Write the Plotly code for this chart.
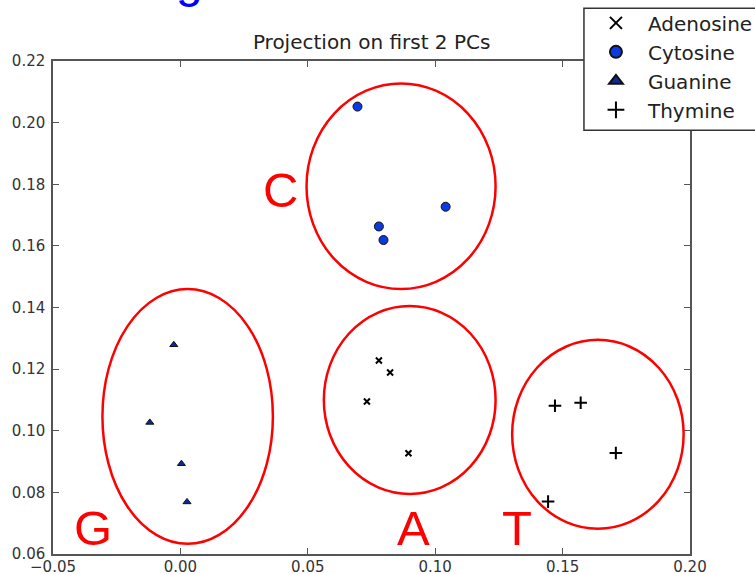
import plotly.graph_objects as go

# ---- data ----
adenosine_x = [0.0779, 0.0823, 0.0732, 0.0895]
adenosine_y = [0.1228, 0.1189, 0.1095, 0.0927]
cytosine_x = [0.0695, 0.1041, 0.0779, 0.0797]
cytosine_y = [0.2052, 0.1727, 0.1663, 0.1619]
guanine_x = [-0.0026, -0.0120, 0.0004, 0.0026]
guanine_y = [0.1279, 0.1027, 0.0893, 0.0769]
thymine_x = [0.1470, 0.1571, 0.1709, 0.1443]
thymine_y = [0.1081, 0.1091, 0.0928, 0.0770]

cluster_labels = ["C", "A", "T", "G"]
cluster_x0 = [0.0495, 0.0563, 0.1302, -0.0306]
cluster_x1 = [0.1237, 0.1237, 0.1975, 0.0363]
cluster_y0 = [0.1460, 0.0795, 0.0682, 0.0633]
cluster_y1 = [0.2127, 0.1405, 0.1295, 0.1460]

x_ticks = [-0.05, 0.00, 0.05, 0.10, 0.15, 0.20]
y_ticks = [0.06, 0.08, 0.10, 0.12, 0.14, 0.16, 0.18, 0.20, 0.22]

# plot-area geometry (pixels) used to place paper-referenced decorations
PL, PR, PT, PB = 53.3, 690.0, 60.7, 554.3
def px(xp):
    return (xp - PL) / (PR - PL)
def py(yp):
    return (PB - yp) / (PB - PT)

fig = go.Figure()
fig.add_trace(go.Scatter(x=adenosine_x, y=adenosine_y, mode="markers", name="Adenosine",
                         marker=dict(symbol="x-thin", size=6, color="black",
                                     line=dict(width=2, color="black"))))
fig.add_trace(go.Scatter(x=cytosine_x, y=cytosine_y, mode="markers", name="Cytosine",
                         marker=dict(symbol="circle", size=9, color="#0a3ae0",
                                     line=dict(width=1, color="#111"))))
fig.add_trace(go.Scatter(x=guanine_x, y=guanine_y, mode="markers", name="Guanine",
                         marker=dict(symbol="triangle-up", size=7, color="#0a2a9a",
                                     line=dict(width=1, color="#111"))))
fig.add_trace(go.Scatter(x=thymine_x, y=thymine_y, mode="markers", name="Thymine",
                         marker=dict(symbol="cross-thin", size=9, color="black",
                                     line=dict(width=2, color="black"))))

for x0, x1, y0, y1 in zip(cluster_x0, cluster_x1, cluster_y0, cluster_y1):
    fig.add_shape(type="circle", xref="x", yref="y", x0=x0, x1=x1, y0=y0, y1=y1,
                  line=dict(color="#ff0000", width=2.5), layer="above")

letter_pos = {"C": (0.0394, 0.1781), "G": (-0.0344, 0.0686), "A": (0.0916, 0.0686), "T": (0.1321, 0.0686)}
for lab in cluster_labels:
    lx, ly = letter_pos[lab]
    fig.add_annotation(x=lx, y=ly, xref="x", yref="y", text=lab, showarrow=False,
                       font=dict(family="Liberation Sans, Arial", size=49, color="#ff0000"),
                       xanchor="center", yanchor="middle")

# partially visible slide title glyph at top
fig.add_annotation(x=px(190), y=py(9), xref="paper", yref="paper",
                   text="g", showarrow=False, xanchor="center", yanchor="bottom",
                   font=dict(family="Liberation Sans, Arial", size=48, color="#0000ff"))

# legend frame
fig.add_shape(type="rect", xref="paper", yref="paper",
              x0=px(584), x1=px(775), y0=py(130), y1=py(8),
              fillcolor="white", line=dict(color="#333", width=1.5), layer="above")

axis_common = dict(showline=True, linecolor="#555", linewidth=1.5, mirror="ticks",
                   ticks="inside", ticklen=6, tickcolor="#555", tickwidth=1,
                   showgrid=False, zeroline=False, tickformat=".2f",
                   tickfont=dict(family="DejaVu Sans", size=15, color="#333"))

fig.update_xaxes(range=[-0.05, 0.20], tickvals=x_ticks, ticklabelstandoff=-2, **axis_common)
fig.update_yaxes(range=[0.06, 0.22], tickvals=y_ticks, ticklabelstandoff=3, **axis_common)

fig.update_layout(
    width=755, height=574,
    margin=dict(l=53.3, r=755 - 690, t=60.7, b=574 - 554.3, autoexpand=False),
    paper_bgcolor="white", plot_bgcolor="white",
    title=dict(text="Projection on first 2 PCs", x=(PL + PR) / 2 / 755, xanchor="center",
               y=1 - 42 / 574, yanchor="middle",
               font=dict(family="DejaVu Sans", size=20, color="#222")),
    legend=dict(x=px(584), y=py(3), xanchor="left", yanchor="top",
                bgcolor="rgba(0,0,0,0)", borderwidth=0, itemwidth=54,
                font=dict(family="DejaVu Sans", size=20, color="#222"),
                itemsizing="constant", tracegroupgap=0),
    showlegend=True,
)

fig.write_html("out.html", config={"displayModeBar": False},
               post_script="document.body.style.margin='0px';")
